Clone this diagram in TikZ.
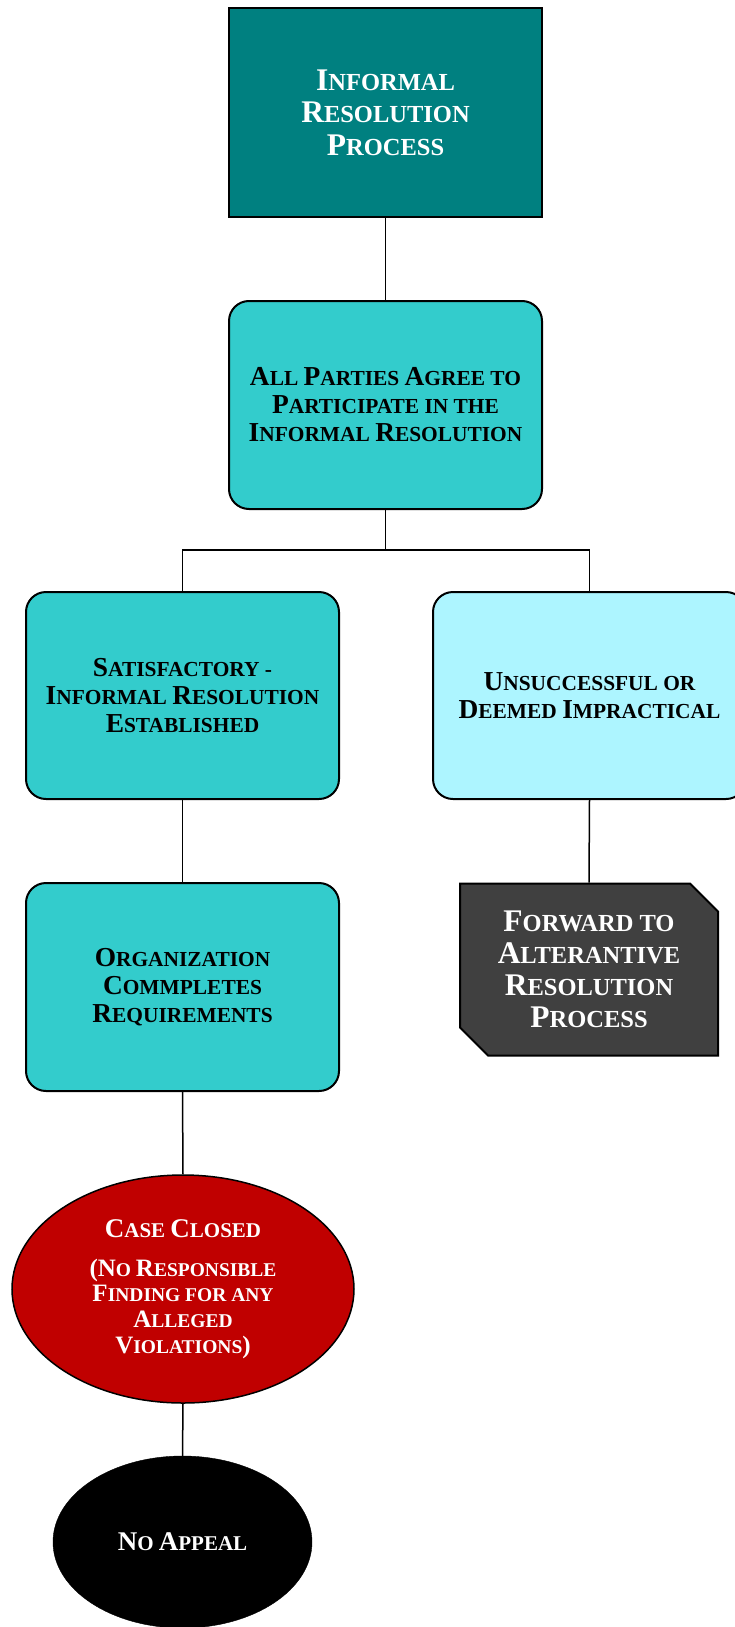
\documentclass[tikz,border=0pt]{standalone}
\usepackage{fontspec}
\setmainfont{Liberation Serif}
\usetikzlibrary{shapes.geometric,shapes.misc}
\definecolor{tealdark}{HTML}{008080}
\definecolor{tealmid}{HTML}{33CCCC}
\definecolor{cyanlight}{HTML}{ADF5FF}
\definecolor{graydark}{HTML}{404040}
\definecolor{redcase}{HTML}{C00000}
\newcommand\capsz{}
\newcommand\lowsz{}
\newcommand\setsz[3]{\renewcommand\capsz{\fontsize{#1}{#3}\selectfont}\renewcommand\lowsz{\fontsize{#2}{#3}\selectfont}\fontsize{#2}{#3}\selectfont\bfseries}
\newcommand\scw[2]{{\capsz #1}{\lowsz #2}}
\newcommand\scs[1]{{\lowsz #1}}
\newcommand\psz{\setsz{25}{19.5}{25.7}}
\begin{document}
\begin{tikzpicture}[x=1pt,y=-1pt,
  conn/.style={draw=black,line width=1.5pt},
  boxbase/.style={draw=black,line width=2pt,align=center,inner sep=0pt,minimum width=313pt,minimum height=208pt},
  topbox/.style={boxbase,fill=tealdark,text=white,font=\setsz{31.5}{24.5}{32.5}},
  midbox/.style={boxbase,rounded corners=20pt,fill=tealmid,text=black,font=\setsz{27.4}{21.4}{28}},
  lightbox/.style={midbox,fill=cyanlight},
  fwdbox/.style={chamfered rectangle,chamfered rectangle corners={north east,south west},chamfered rectangle xsep=14pt,chamfered rectangle ysep=14pt,draw=black,line width=2pt,fill=graydark,text=white,align=center,inner sep=0pt,minimum width=258pt,minimum height=172pt,font=\setsz{31.5}{24.5}{32}},
  redell/.style={ellipse,draw=black,line width=1.5pt,fill=redcase,text=white,align=center,inner sep=0pt,minimum width=342pt,minimum height=228pt,font=\setsz{27}{21}{25.7}},
  blackell/.style={ellipse,draw=black,fill=black,text=white,align=center,inner sep=0pt,minimum width=259pt,minimum height=172pt,font=\setsz{27}{21}{28}}
]
\useasboundingbox (0,0) rectangle (735,1627);
\clip (0,0) rectangle (735,1627);
\node[topbox,minimum height=209pt] (top) at (385.5,112.5) {\scw{I}{NFORMAL}\\\scw{R}{ESOLUTION}\\\scw{P}{ROCESS}};
\node[midbox] (agree) at (385.5,405) {\scw{A}{LL} \scw{P}{ARTIES} \scw{A}{GREE} \scs{TO}\\\scw{P}{ARTICIPATE} \scs{IN THE}\\\scw{I}{NFORMAL} \scw{R}{ESOLUTION}};
\node[midbox,minimum height=207pt] (sat) at (182.5,695.5) {\scw{S}{ATISFACTORY} -\\\scw{I}{NFORMAL} \scw{R}{ESOLUTION}\\\scw{E}{STABLISHED}};
\node[lightbox,minimum height=207pt] (uns) at (589.5,695.5) {\scw{U}{NSUCCESSFUL} \scs{OR}\\\scw{D}{EEMED} \scw{I}{MPRACTICAL}};
\node[midbox] (org) at (182.5,987) {\scw{O}{RGANIZATION}\\\scw{C}{OMMPLETES}\\\scw{R}{EQUIREMENTS}};
\node[fwdbox] (fwd) at (589,969.5) {\scw{F}{ORWARD} \scs{TO}\\\scw{A}{LTERANTIVE}\\\scw{R}{ESOLUTION}\\\scw{P}{ROCESS}};
\node[redell] (closed) at (183,1289) {\scw{C}{ASE} \scw{C}{LOSED}\\[13pt]\psz\scw{(N}{O} \scw{R}{ESPONSIBLE}\\\psz\scw{F}{INDING} \scs{FOR ANY}\\\psz\scw{A}{LLEGED}\\\psz\scw{V}{IOLATIONS}{\capsz)}};
\node[blackell] (appeal) at (182.5,1542) {\scw{N}{O} \scw{A}{PPEAL}};
\coordinate (j) at (385.5,550);
\draw[conn] (top.south) -- (agree.north);
\draw[conn] (agree.south) -- (j);
\draw[conn] (j) -| (sat.north);
\draw[conn] (j) -| (uns.north);
\draw[conn] (sat.south) -- (org.north);
\draw[conn] (uns.south) -- (fwd.north);
\draw[conn] (org.south) -- (closed.north);
\draw[conn] (closed.south) -- (appeal.north);
\end{tikzpicture}
\end{document}
